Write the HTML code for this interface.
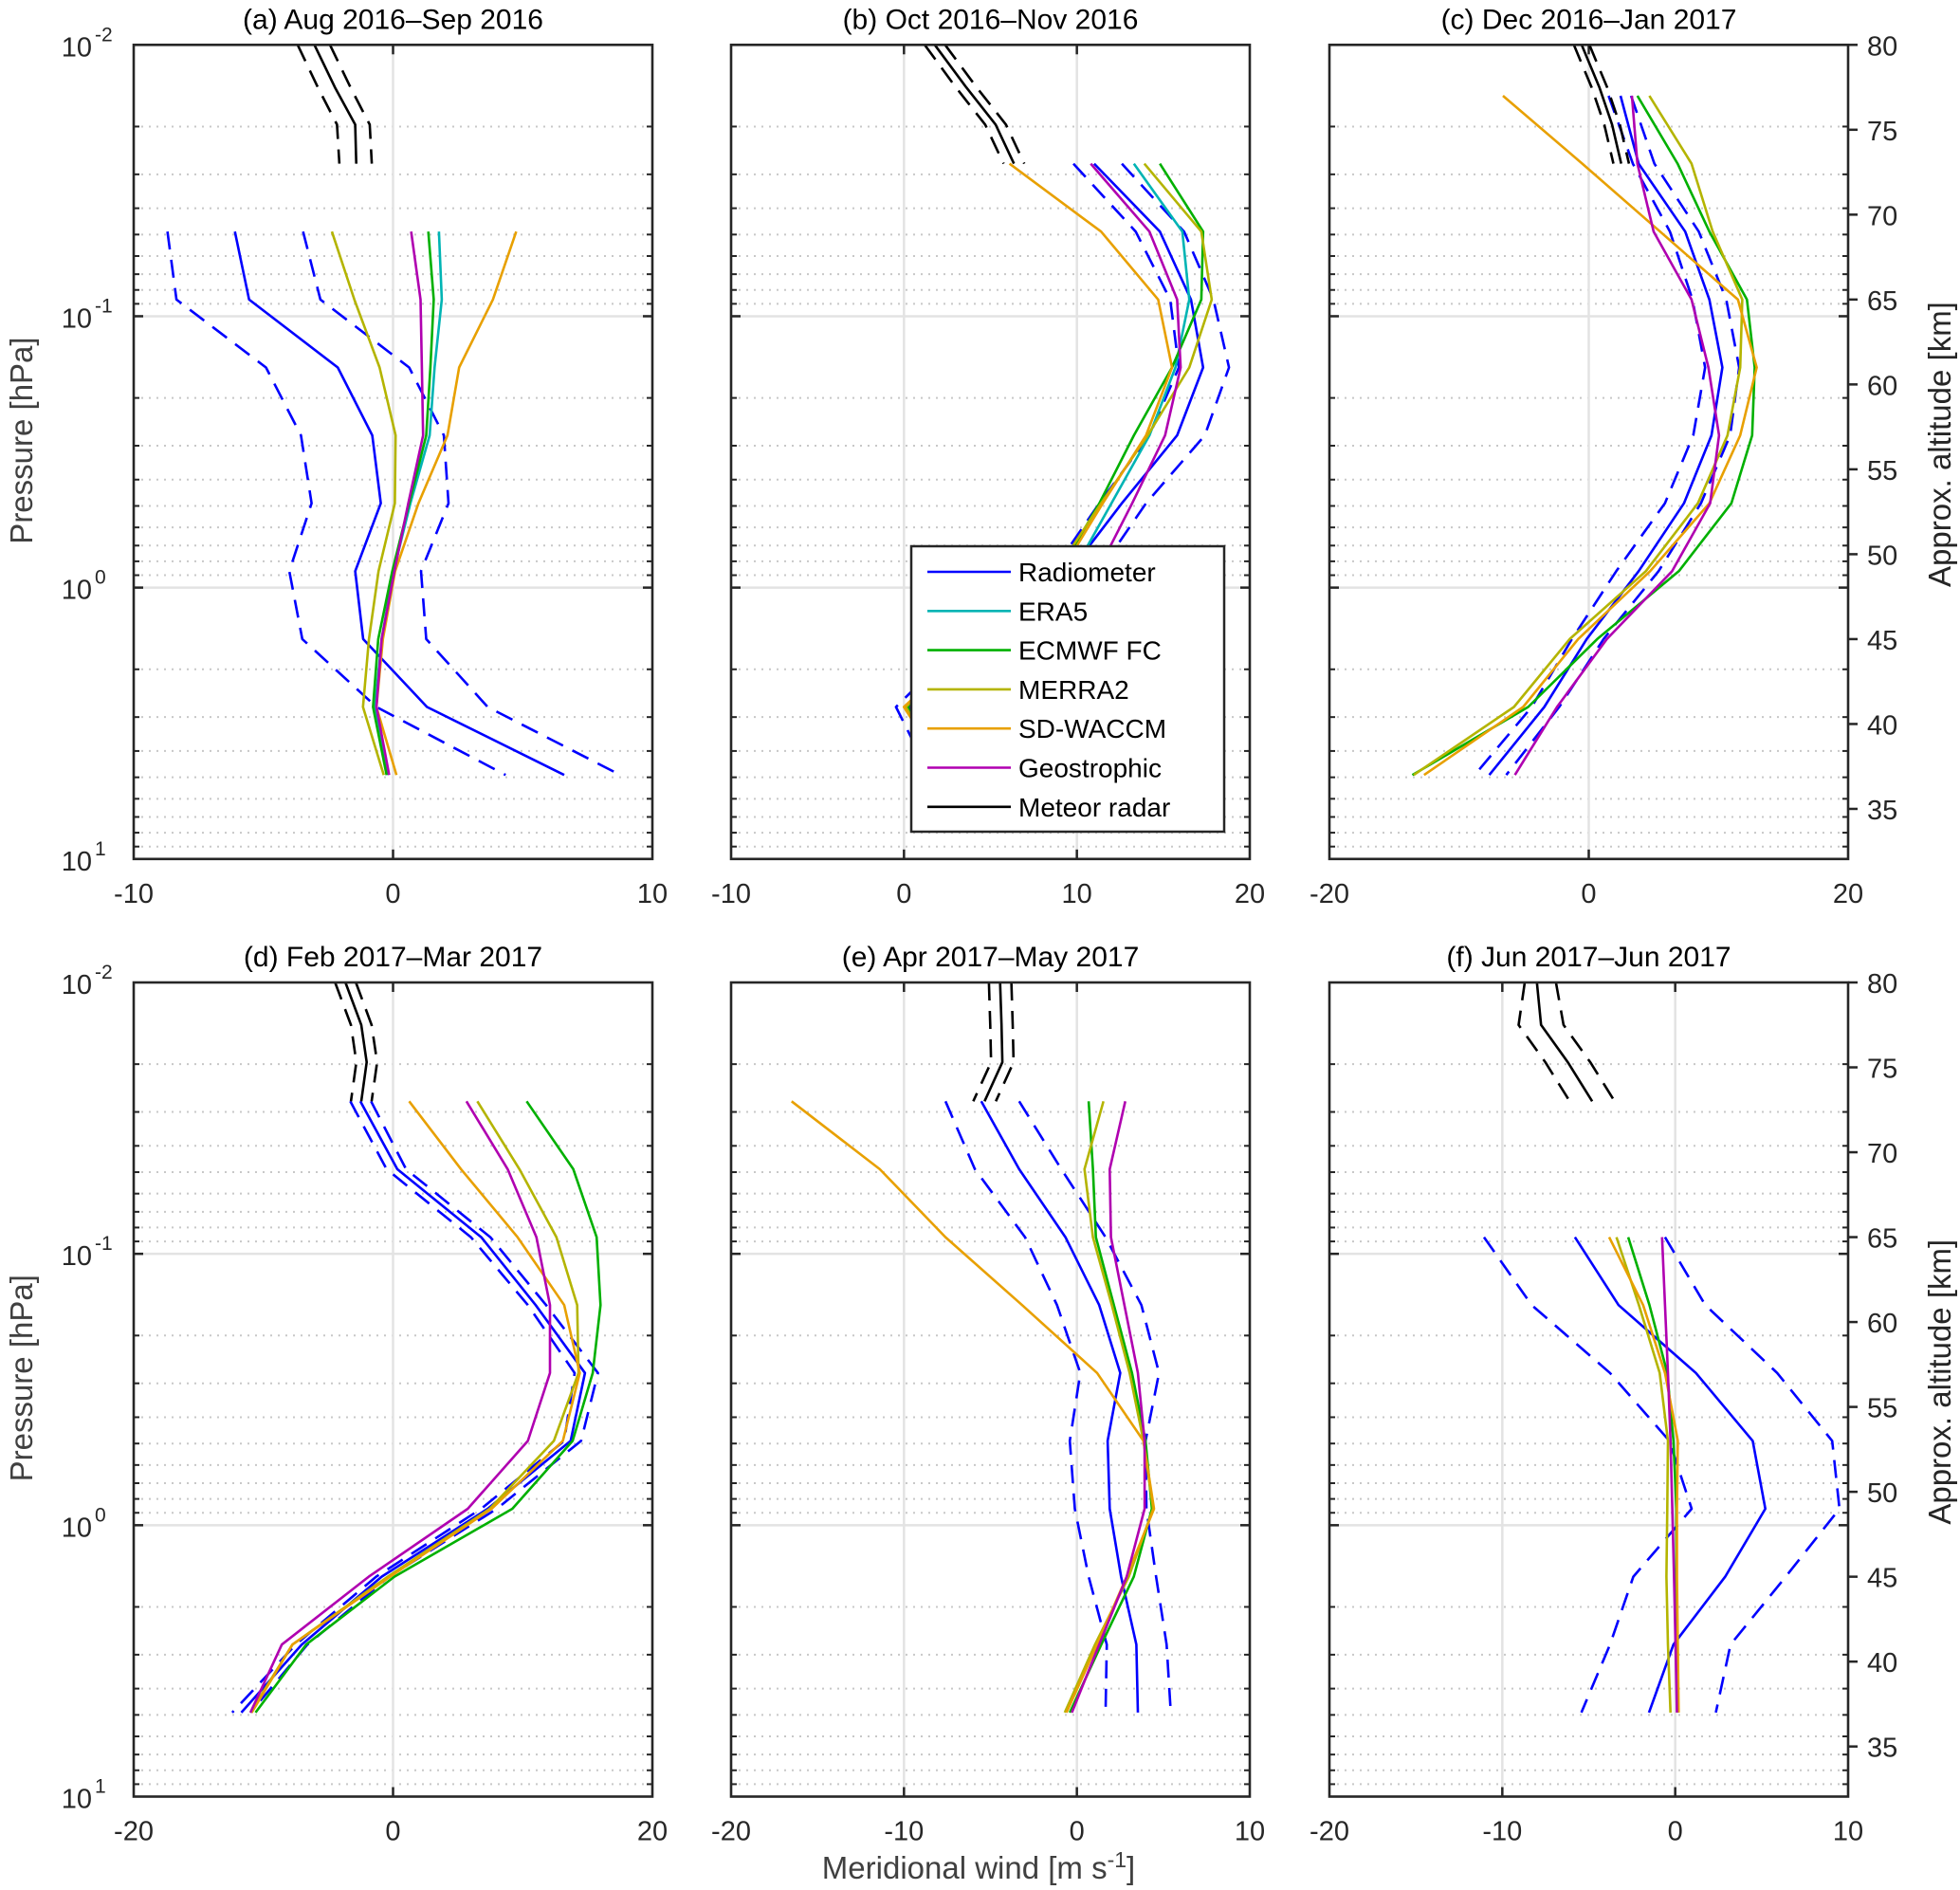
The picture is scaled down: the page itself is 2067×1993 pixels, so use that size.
<!DOCTYPE html>
<html><head><meta charset="utf-8"><style>
html,body{margin:0;padding:0;background:#fff;}
svg{display:block;font-family:"Liberation Sans",Arial,sans-serif;}
</style></head><body>
<svg id="fig" width="2067" height="1993" viewBox="0 0 2067 1993" xmlns="http://www.w3.org/2000/svg"></svg>
<script>
// ---------- data ----------
const lev9 = [69,65,61,57,53,49,45,41,37];
const lev10 = [73,69,65,61,57,53,49,45,41,37];
const lev11 = [77,73,69,65,61,57,53,49,45,41,37];
const lev8 = [65,61,57,53,49,45,41,37];
const metLev = [80,77.5,75.3,73];

// panel a
const aRad = [-6.1,-5.55,-2.13,-0.8,-0.47,-1.46,-1.15,1.31,6.6];
const aRadLo = [-8.7,-8.35,-4.9,-3.55,-3.14,-4.0,-3.5,-0.64,4.34];
const aRadHi = [-3.47,-2.8,0.62,1.96,2.14,1.08,1.28,3.65,8.76];
const aEra = [1.77,1.88,1.6,1.41,0.67,0.02,-0.44,-0.69,-0.2];
const aEcm = [1.36,1.57,1.44,1.28,0.62,-0.03,-0.57,-0.77,-0.25];
const aMer = [-2.36,-1.49,-0.52,0.1,0.07,-0.56,-0.93,-1.16,-0.36];
const aWac = [4.75,3.85,2.55,2.1,0.98,0.08,-0.39,-0.64,0.13];
const aGeo = [0.7,1.06,1.11,1.16,0.59,0.05,-0.44,-0.64,-0.15];
const aMet = [-3.03,-2.24,-1.46,-1.42];
const aMetLo = [-3.68,-2.9,-2.16,-2.07];
const aMetHi = [-2.43,-1.64,-0.9,-0.82];

// panel b
const bRad = [11.0,14.8,16.6,17.3,15.8,12.6,9.6,4.5,0.3,2.5];
const bRadLo = [9.8,13.4,15.4,15.9,14.2,11.3,8.6,3.5,-0.46,1.5];
const bRadHi = [12.6,16.2,17.9,18.8,17.4,14.0,11.3,5.5,0.8,3.5];
const bEra = [13.3,16.1,16.5,15.7,14.2,12.0,9.8,4.5,0.6,2.5];
const bEcm = [14.8,17.3,17.2,15.5,13.3,11.3,9.0,4.2,0.2,2.5];
const bMer = [13.9,17.2,17.8,16.5,14.1,11.4,8.8,4.2,0.1,2.5];
const bWac = [6.1,11.4,14.7,15.5,14.0,11.5,9.1,4.2,0.0,2.5];
const bGeo = [10.8,14.2,15.8,16.0,15.1,13.2,11.2,5.0,0.4,2.5];
const bMet = [1.78,3.6,5.3,6.36];
const bMetLo = [1.2,3.0,4.7,5.76];
const bMetHi = [2.38,4.2,5.9,6.96];

// panel c
const cRad = [2.45,3.85,7.44,9.3,10.3,9.46,7.34,3.85,-0.16,-3.43,-7.67];
const cRadLo = [1.53,3.4,6.26,8.0,8.97,8.06,5.87,2.12,-1.3,-4.4,-8.8];
const cRadHi = [3.26,5.06,8.48,10.6,11.6,10.9,8.65,5.38,1.14,-2.28,-6.36];
const cEra = [3.75,6.85,9.3,12.2,12.8,12.6,11.0,6.95,0.65,-4.67,-13.6];
const cEcm = [3.75,6.85,9.3,12.2,12.8,12.6,11.0,6.95,0.65,-4.67,-13.6];
const cMer = [4.67,7.93,9.56,11.84,11.68,10.7,8.42,4.4,-1.47,-5.77,-13.5];
const cWac = [-6.62,-0.5,5.5,11.5,12.95,11.68,9.3,4.73,-0.82,-5.06,-12.7];
const cGeo = [3.33,3.75,5.0,7.93,9.23,10.05,9.36,6.43,1.4,-2.45,-5.7];
const cMet = [-0.55,0.82,1.8,2.5];
const cMetLo = [-1.15,0.22,1.2,1.9];
const cMetHi = [0.05,1.42,2.4,3.1];

// panel d
const dRad = [-2.52,0.33,6.8,11.0,14.8,13.7,7.3,-0.88,-7.04,-11.7];
const dRadLo = [-3.3,-0.5,6.0,10.4,14.0,13.2,6.8,-1.3,-7.5,-12.4];
const dRadHi = [-1.7,1.0,7.5,11.8,15.8,14.5,8.0,-0.3,-6.6,-11.0];
const dEra = [10.3,13.9,15.7,16.0,15.4,13.85,9.2,0.1,-6.7,-10.6];
const dEcm = [10.3,13.9,15.7,16.0,15.4,13.85,9.2,0.1,-6.7,-10.6];
const dMer = [6.5,9.75,12.6,14.2,14.3,12.4,7.46,-0.4,-7.76,-11.0];
const dWac = [1.24,5.24,9.6,13.2,14.4,13.1,7.6,-0.23,-7.76,-10.9];
const dGeo = [5.66,8.84,11.06,12.1,12.1,10.4,5.76,-1.87,-8.58,-11.0];
const dMet = [-3.67,-2.45,-2.03,-2.45];
const dMetLo = [-4.47,-3.25,-2.83,-3.25];
const dMetHi = [-2.87,-1.65,-1.23,-1.65];

// panel e
const eRad = [-5.53,-3.34,-0.66,1.29,2.51,1.78,1.9,2.56,3.44,3.53];
const eRadLo = [-7.6,-5.9,-3.0,-1.15,0.2,-0.41,-0.12,0.68,1.73,1.66];
const eRadHi = [-3.34,-0.9,1.66,3.73,4.75,3.97,4.02,4.58,5.19,5.43];
const eEra = [0.68,0.93,1.1,2.14,3.19,3.97,4.34,3.29,1.41,-0.41];
const eEcm = [0.68,0.93,1.1,2.14,3.19,3.97,4.34,3.29,1.41,-0.41];
const eMer = [1.54,0.44,0.93,2.02,3.05,3.85,4.41,3.0,1.05,-0.7];
const eWac = [-16.5,-11.4,-7.6,-3.17,1.17,3.85,4.46,2.88,1.17,-0.6];
const eGeo = [2.8,1.9,1.97,2.75,3.53,3.92,3.92,2.88,1.29,-0.29];
const eMet = [-4.44,-4.36,-4.31,-5.34];
const eMetLo = [-5.09,-5.01,-4.96,-5.99];
const eMetHi = [-3.79,-3.71,-3.66,-4.69];

// panel f
const fRad = [-5.8,-3.28,1.2,4.48,5.21,2.89,-0.1,-1.52];
const fRadLo = [-11.06,-8.3,-3.77,-0.34,0.95,-2.42,-3.77,-5.43];
const fRadHi = [-0.59,1.74,5.9,9.08,9.5,6.39,3.2,2.35];
const fEra = [-2.72,-1.49,-0.46,-0.1,0.07,0.07,0.07,0.15];
const fEcm = [-2.72,-1.49,-0.46,-0.1,0.07,0.07,0.07,0.15];
const fMer = [-3.4,-2.1,-0.9,-0.42,-0.46,-0.51,-0.42,-0.27];
const fWac = [-3.82,-1.86,-0.59,0.15,0.1,0.1,0.15,0.2];
const fGeo = [-0.76,-0.59,-0.42,-0.27,-0.17,-0.07,0.02,0.1];
const fMet = [-8.0,-7.76,-6.21,-4.8];
const fMetLo = [-8.7,-9.06,-7.51,-6.1];
const fMetHi = [-6.9,-6.46,-4.91,-3.5];

const titles = ["(a) Aug 2016\u2013Sep 2016","(b) Oct 2016\u2013Nov 2016","(c) Dec 2016\u2013Jan 2017",
                "(d) Feb 2017\u2013Mar 2017","(e) Apr 2017\u2013May 2017","(f) Jun 2017\u2013Jun 2017"];
const xTicksA = [-10,0,10], xTicksB = [-10,0,10,20], xTicksC = [-20,0,20];
const xTicksD = [-20,0,20], xTicksE = [-20,-10,0,10], xTicksF = [-20,-10,0,10];
const altTicks = [80,75,70,65,60,55,50,45,40,35];
const legendNames = ["Radiometer","ERA5","ECMWF FC","MERRA2","SD-WACCM","Geostrophic","Meteor radar"];

// ---------- drawing ----------
const C = {rad:"#0000ff",era:"#00b4b4",ecm:"#00b000",mer:"#b4b400",wac:"#e8a000",geo:"#b000b0",met:"#000000"};
const svg = document.getElementById('fig');
const NS = "http://www.w3.org/2000/svg";
function mk(tag, attrs, parent){const e=document.createElementNS(NS,tag);for(const k in attrs)e.setAttribute(k,attrs[k]);(parent||svg).appendChild(e);return e;}

const W = 547, H = 858.5;
const lefts = [141,771,1402];
const tops = [47.3,1036];
const pxKm = H*0.93846/45;

const panels = [
 {xmin:-10,xmax:10,ticks:xTicksA,lev:lev9,rad:aRad,lo:aRadLo,hi:aRadHi,era:aEra,ecm:aEcm,mer:aMer,wac:aWac,geo:aGeo,met:aMet,mlo:aMetLo,mhi:aMetHi,hasEra:true},
 {xmin:-10,xmax:20,ticks:xTicksB,lev:lev10,rad:bRad,lo:bRadLo,hi:bRadHi,era:bEra,ecm:bEcm,mer:bMer,wac:bWac,geo:bGeo,met:bMet,mlo:bMetLo,mhi:bMetHi,hasEra:true},
 {xmin:-20,xmax:20,ticks:xTicksC,lev:lev11,rad:cRad,lo:cRadLo,hi:cRadHi,era:cEra,ecm:cEcm,mer:cMer,wac:cWac,geo:cGeo,met:cMet,mlo:cMetLo,mhi:cMetHi,hasEra:false},
 {xmin:-20,xmax:20,ticks:xTicksD,lev:lev10,rad:dRad,lo:dRadLo,hi:dRadHi,era:dEra,ecm:dEcm,mer:dMer,wac:dWac,geo:dGeo,met:dMet,mlo:dMetLo,mhi:dMetHi,hasEra:false},
 {xmin:-20,xmax:10,ticks:xTicksE,lev:lev10,rad:eRad,lo:eRadLo,hi:eRadHi,era:eEra,ecm:eEcm,mer:eMer,wac:eWac,geo:eGeo,met:eMet,mlo:eMetLo,mhi:eMetHi,hasEra:false},
 {xmin:-20,xmax:10,ticks:xTicksF,lev:lev8,rad:fRad,lo:fRadLo,hi:fRadHi,era:fEra,ecm:fEcm,mer:fMer,wac:fWac,geo:fGeo,met:fMet,mlo:fMetLo,mhi:fMetHi,hasEra:false}
];
const letters = "abcdef";

panels.forEach((p,i)=>{
  const L = lefts[i%3], T = tops[Math.floor(i/3)], R = L+W, B = T+H;
  const xs = v => L + (v-p.xmin)/(p.xmax-p.xmin)*W;
  const ys = a => T + (80-a)*pxKm;
  const yp = pr => T + (Math.log10(pr)+2)/3*H;
  const g = mk('g',{});
  
  
  // dotted minor grid
  for(let d=-2; d<1; d++) for(let m=2; m<=9; m++){
    const y = yp(m*Math.pow(10,d));
    const ln = mk('line',{x1:L,x2:R,y1:y,y2:y,stroke:"#c8c8c8","stroke-width":2,"stroke-dasharray":"2,6"},g);
    
    
    mk('line',{x1:L,x2:L+6,y1:y,y2:y,stroke:"#262626","stroke-width":2},g);
    mk('line',{x1:R-6,x2:R,y1:y,y2:y,stroke:"#262626","stroke-width":2},g);
  }
  [0.1,1].forEach(pr=>{const y=yp(pr);
    const ln=mk('line',{x1:L,x2:R,y1:y,y2:y,stroke:"#e3e3e3","stroke-width":2.5},g);
    
    
    mk('line',{x1:L,x2:L+10,y1:y,y2:y,stroke:"#262626","stroke-width":2.5},g);
    mk('line',{x1:R-10,x2:R,y1:y,y2:y,stroke:"#262626","stroke-width":2.5},g);
  });
  p.ticks.forEach(t=>{const x=xs(t);
    if(t>p.xmin && t<p.xmax){
      const ln=mk('line',{x1:x,x2:x,y1:T,y2:B,stroke:"#e3e3e3","stroke-width":2.5},g);
      
      
      mk('line',{x1:x,x2:x,y1:T,y2:T+10,stroke:"#262626","stroke-width":2.5},g);
      mk('line',{x1:x,x2:x,y1:B-10,y2:B,stroke:"#262626","stroke-width":2.5},g);
    }
    const tx=mk('text',{x:x,y:B+46,"font-size":29,"text-anchor":"middle",fill:"#262626"},g);
    tx.textContent = t;
    
    
  });
  // series
  function line(vals, levs, color, dashed, name){
    const pts = vals.map((v,k)=>xs(v).toFixed(1)+","+ys(levs[k]).toFixed(1)).join(" ");
    const pl = mk('polyline',{points:pts,fill:"none",stroke:color,"stroke-width":2.6,"stroke-linejoin":"round"},g);
    if(dashed) pl.setAttribute('stroke-dasharray','19,11');
    
    
  }
  line(p.lo,p.lev,C.rad,true,'radiometer-lower');
  line(p.hi,p.lev,C.rad,true,'radiometer-upper');
  line(p.rad,p.lev,C.rad,false,'radiometer-line');
  if(p.hasEra) line(p.era,p.lev,C.era,false,'era5-line');
  line(p.ecm,p.lev,C.ecm,false,'ecmwf-line');
  line(p.mer,p.lev,C.mer,false,'merra2-line');
  line(p.wac,p.lev,C.wac,false,'sd-waccm-line');
  line(p.geo,p.lev,C.geo,false,'geostrophic-line');
  line(p.mlo,metLev,C.met,true,'meteor-lower');
  line(p.mhi,metLev,C.met,true,'meteor-upper');
  line(p.met,metLev,C.met,false,'meteor-line');
  // frame
  const fr = mk('rect',{x:L,y:T,width:W,height:H,fill:"none",stroke:"#262626","stroke-width":2.6},g);
  
  
  // title
  const tt = mk('text',{x:L+W/2,y:T-17,"font-size":30,"text-anchor":"middle",fill:"#000"},g);
  tt.textContent = titles[i];
  
  
  // left y labels
  if(i%3===0){
    [-2,-1,0,1].forEach(e=>{const y=yp(Math.pow(10,e));
      const t=mk('text',{x:L-44,y:y+12,"font-size":29,"text-anchor":"end",fill:"#262626"},g);
      t.textContent="10";
      
      
      const s=mk('text',{x:L-41,y:y-4,"font-size":21,"text-anchor":"start",fill:"#262626"},g);
      s.textContent = e<0 ? String(e) : String(e);
      
      
    });
    const yl=mk('text',{x:0,y:0,"font-size":33,"text-anchor":"middle",fill:"#404040",transform:`translate(34,${T+H/2-12}) rotate(-90)`},g);
    yl.textContent="Pressure [hPa]";
    
    
  }
  if(i%3===2){
    altTicks.forEach(a=>{const y=ys(a);
      mk('line',{x1:R,x2:R+10,y1:y,y2:y,stroke:"#262626","stroke-width":2.5},g);
      const t=mk('text',{x:R+20,y:y+11,"font-size":29,fill:"#262626"},g);
      t.textContent=a;
      
      
    });
    const al=mk('text',{x:0,y:0,"font-size":33,"text-anchor":"middle",fill:"#262626",transform:`translate(2057,${T+H/2-8}) rotate(-90)`},g);
    al.textContent="Approx. altitude [km]";
    
    
  }
  // legend in panel b
  if(i===1){
    const lg = mk('g',{});
    
    
    mk('rect',{x:961,y:576,width:330,height:301,fill:"#fff",stroke:"#262626","stroke-width":2.5},lg);
    const cols=[C.rad,C.era,C.ecm,C.mer,C.wac,C.geo,C.met];
    legendNames.forEach((n,k)=>{const y=603+k*41.3;
      const le=mk('g',{},lg);
      
      
      mk('line',{x1:978,x2:1066,y1:y,y2:y,stroke:cols[k],"stroke-width":2.6},le);
      const t=mk('text',{x:1074,y:y+10,"font-size":28,fill:"#000"},le);
      t.textContent=n;
    });
  }
});
const xl = mk('text',{x:1032,y:1981,"font-size":33,"text-anchor":"middle",fill:"#404040"});


xl.innerHTML = 'Meridional wind [m s<tspan dy="-12" font-size="23">-1</tspan><tspan dy="12">]</tspan>';
</script>
</body></html>
